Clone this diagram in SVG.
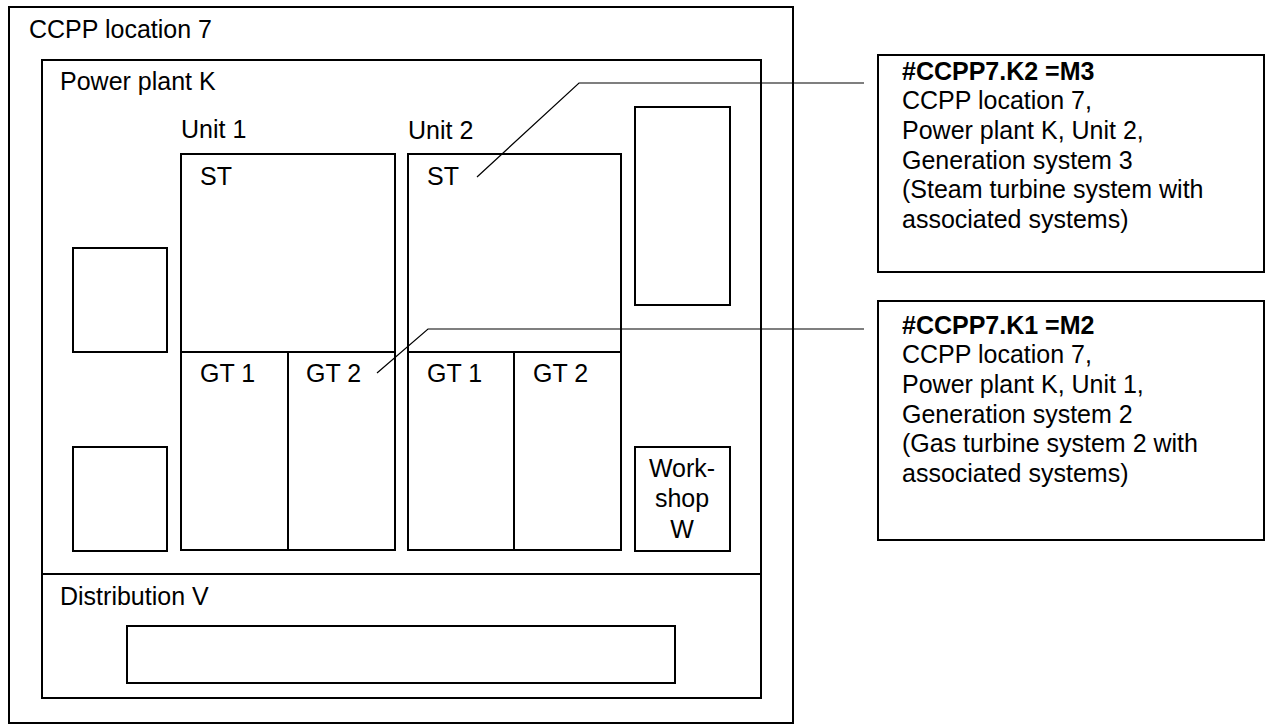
<svg xmlns="http://www.w3.org/2000/svg" width="1268" height="725" viewBox="0 0 1268 725">
<style>
.b{fill:none;stroke:#000;stroke-width:2}
.t{font-family:"Liberation Sans",Arial,sans-serif;font-size:25px;fill:#000}
.bd{font-weight:bold}
.c{text-anchor:middle}
.l{fill:none;stroke:#000;stroke-width:1.2}
</style>
<rect width="1268" height="725" fill="#fff"/>
<g id="ccpp-location-7">
<rect class="b" x="9" y="7" width="784" height="716"/>
<text class="t" x="29" y="38">CCPP location 7</text>
</g>
<g id="power-plant-k">
<rect class="b" x="42" y="60" width="719" height="514"/>
<text class="t" x="60" y="90">Power plant K</text>
</g>
<g id="distribution-v">
<rect class="b" x="42" y="574" width="719" height="124"/>
<text class="t" x="60" y="605">Distribution V</text>
<rect class="b" x="127" y="626" width="548" height="57"/>
</g>
<g id="box-left-top"><rect class="b" x="73" y="248" width="94" height="104"/></g>
<g id="box-left-bottom"><rect class="b" x="73" y="447" width="94" height="104"/></g>
<g id="unit-1">
<text class="t" x="181" y="138">Unit 1</text>
<rect class="b" x="181" y="154" width="214" height="198"/>
<text class="t" x="200" y="185">ST</text>
<rect class="b" x="181" y="352" width="107" height="198"/>
<text class="t" x="200" y="382">GT 1</text>
<rect class="b" x="288" y="352" width="107" height="198"/>
<text class="t" x="306" y="382">GT 2</text>
</g>
<g id="unit-2">
<text class="t" x="408" y="139">Unit 2</text>
<rect class="b" x="408" y="154" width="213" height="198"/>
<text class="t" x="427" y="185">ST</text>
<rect class="b" x="408" y="352" width="106" height="198"/>
<text class="t" x="427" y="382">GT 1</text>
<rect class="b" x="514" y="352" width="107" height="198"/>
<text class="t" x="533" y="382">GT 2</text>
</g>
<g id="box-right-tall"><rect class="b" x="635" y="107" width="95" height="198"/></g>
<g id="workshop-w">
<rect class="b" x="635" y="447" width="95" height="104"/>
<text class="t c" x="682" y="477">Work-</text>
<text class="t c" x="682" y="507">shop</text>
<text class="t c" x="682" y="538">W</text>
</g>
<g id="label-m3">
<rect class="b" x="878" y="55" width="386" height="217"/>
<text class="t bd" x="902" y="80">#CCPP7.K2 =M3</text>
<text class="t" x="902" y="109">CCPP location 7,</text>
<text class="t" x="902" y="139">Power plant K, Unit 2,</text>
<text class="t" x="902" y="169">Generation system 3</text>
<text class="t" x="902" y="198">(Steam turbine system with</text>
<text class="t" x="902" y="228">associated systems)</text>
</g>
<g id="label-m2">
<rect class="b" x="878" y="301" width="386" height="239"/>
<text class="t bd" x="902" y="334">#CCPP7.K1 =M2</text>
<text class="t" x="902" y="363">CCPP location 7,</text>
<text class="t" x="902" y="393">Power plant K, Unit 1,</text>
<text class="t" x="902" y="423">Generation system 2</text>
<text class="t" x="902" y="452">(Gas turbine system 2 with</text>
<text class="t" x="902" y="482">associated systems)</text>
</g>
<g id="connectors">
<polyline class="l" points="477,177 579,83 864,83"/>
<polyline class="l" points="377,373 428,329 864,329"/>
</g>
</svg>
